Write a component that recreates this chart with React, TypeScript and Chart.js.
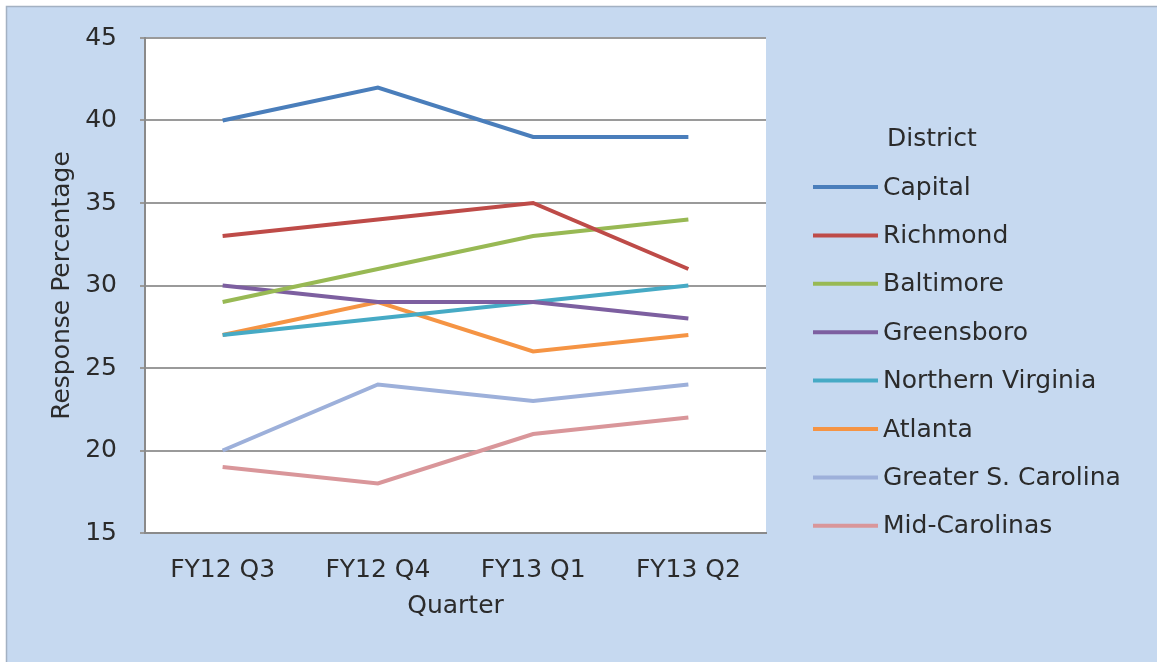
import React, { useEffect, useRef } from "react";
import { Chart, registerables } from "chart.js";

Chart.register(...registerables);

// Survey response percentage by district and quarter
const quarters = ["FY12 Q3", "FY12 Q4", "FY13 Q1", "FY13 Q2"];
const districts = [
  "Capital",
  "Richmond",
  "Baltimore",
  "Greensboro",
  "Northern Virginia",
  "Atlanta",
  "Greater S. Carolina",
  "Mid-Carolinas",
];
const capital = [40, 42, 39, 39];
const richmond = [33, 34, 35, 31];
const baltimore = [29, 31, 33, 34];
const greensboro = [30, 29, 29, 28];
const northernVirginia = [27, 28, 29, 30];
const atlanta = [27, 29, 26, 27];
const greaterSCarolina = [20, 24, 23, 24];
const midCarolinas = [19, 18, 21, 22];
const seriesValues = [
  capital,
  richmond,
  baltimore,
  greensboro,
  northernVirginia,
  atlanta,
  greaterSCarolina,
  midCarolinas,
];
const seriesColors = [
  "#4A7EBB",
  "#BE4B48",
  "#98B954",
  "#7D5FA0",
  "#46AAC5",
  "#F59444",
  "#9DB0DA",
  "#D9969A",
];
const yMin = 15;
const yMax = 45;
const yStep = 5;

const FONT_FAMILY = "'DejaVu Sans', 'Liberation Sans', Arial, sans-serif";
const FONT_SIZE = 25;
const TEXT_COLOR = "#2b2b2b";
const PANEL_BLUE = "#C6D9F0";

const W = 1157;
const H = 662;

// Panel background, frame edges and white plot area
const backgroundPlugin = {
  id: "panelBackground",
  beforeDraw(chart: Chart) {
    const { ctx, chartArea } = chart;
    ctx.save();
    ctx.fillStyle = "#ffffff";
    ctx.fillRect(0, 0, W, H);
    ctx.fillStyle = PANEL_BLUE;
    ctx.fillRect(7, 7, W - 7, H - 7);
    ctx.strokeStyle = "#A3B1C2";
    ctx.lineWidth = 1.5;
    ctx.beginPath();
    ctx.moveTo(6.5, H);
    ctx.lineTo(6.5, 6.5);
    ctx.lineTo(W, 6.5);
    ctx.stroke();
    ctx.fillStyle = "#ffffff";
    ctx.fillRect(
      chartArea.left,
      chartArea.top,
      chartArea.right - chartArea.left,
      chartArea.bottom - chartArea.top
    );
    ctx.restore();
  },
};

// Titled legend to the right of the plot
const districtLegendPlugin = {
  id: "districtLegend",
  afterDraw(chart: Chart) {
    const { ctx } = chart;
    const lineStart = 813;
    const lineEnd = 878;
    const textX = 883;
    const firstRow = 187;
    const rowGap = 48.4;
    ctx.save();
    ctx.font = `${FONT_SIZE}px ${FONT_FAMILY}`;
    ctx.fillStyle = TEXT_COLOR;
    ctx.textAlign = "left";
    ctx.textBaseline = "middle";
    ctx.fillText("District", 887, 139);
    chart.data.datasets.forEach((ds: any, i: number) => {
      const y = firstRow + i * rowGap;
      ctx.strokeStyle = ds.borderColor;
      ctx.lineWidth = 4;
      ctx.lineCap = "butt";
      ctx.beginPath();
      ctx.moveTo(lineStart, y);
      ctx.lineTo(lineEnd, y);
      ctx.stroke();
      ctx.fillStyle = TEXT_COLOR;
      ctx.fillText(ds.label, textX, y + 1);
    });
    ctx.restore();
  },
};

export default function App() {
  const canvasRef = useRef<HTMLCanvasElement | null>(null);

  useEffect(() => {
    const canvas = canvasRef.current;
    if (!canvas) return;
    const font = { family: FONT_FAMILY, size: FONT_SIZE };
    const chart = new Chart(canvas, {
      type: "line",
      data: {
        labels: quarters,
        datasets: districts.map((name, i) => ({
          label: name,
          data: seriesValues[i],
          borderColor: seriesColors[i],
          backgroundColor: seriesColors[i],
          borderWidth: 4,
          pointRadius: 0,
          pointHoverRadius: 0,
          tension: 0,
          fill: false,
        })),
      },
      options: {
        responsive: false,
        animation: false,
        devicePixelRatio: 1,
        layout: { padding: { left: 0, top: 38, right: 391, bottom: 0 } },
        plugins: {
          legend: { display: false },
          tooltip: { enabled: false },
          title: { display: false },
        },
        scales: {
          x: {
            type: "category",
            offset: true,
            grid: { display: false },
            border: { display: true, color: "#8a8a8a", width: 2 },
            ticks: { color: TEXT_COLOR, font, padding: 14, maxRotation: 0 },
            title: {
              display: true,
              text: "Quarter",
              color: TEXT_COLOR,
              font,
              padding: { top: 0, bottom: 41 },
            },
            afterFit(scale: any) {
              scale.height = 129;
            },
          },
          y: {
            min: yMin,
            max: yMax,
            ticks: { stepSize: yStep, color: TEXT_COLOR, font, padding: 23 },
            grid: {
              color: "#9a9a9a",
              lineWidth: 2,
              tickLength: 5,
              drawTicks: true,
            },
            border: { display: true, color: "#8a8a8a", width: 2 },
            title: {
              display: true,
              text: "Response Percentage",
              color: TEXT_COLOR,
              font,
              padding: { top: 47, bottom: 0 },
            },
            afterFit(scale: any) {
              scale.width = 145;
            },
          },
        },
      },
      plugins: [backgroundPlugin, districtLegendPlugin],
    });
    return () => chart.destroy();
  }, []);

  return (
    <div style={{ position: "fixed", left: 0, top: 0, width: W, height: H }}>
      <canvas ref={canvasRef} width={W} height={H} style={{ width: W, height: H, display: "block" }} />
    </div>
  );
}
